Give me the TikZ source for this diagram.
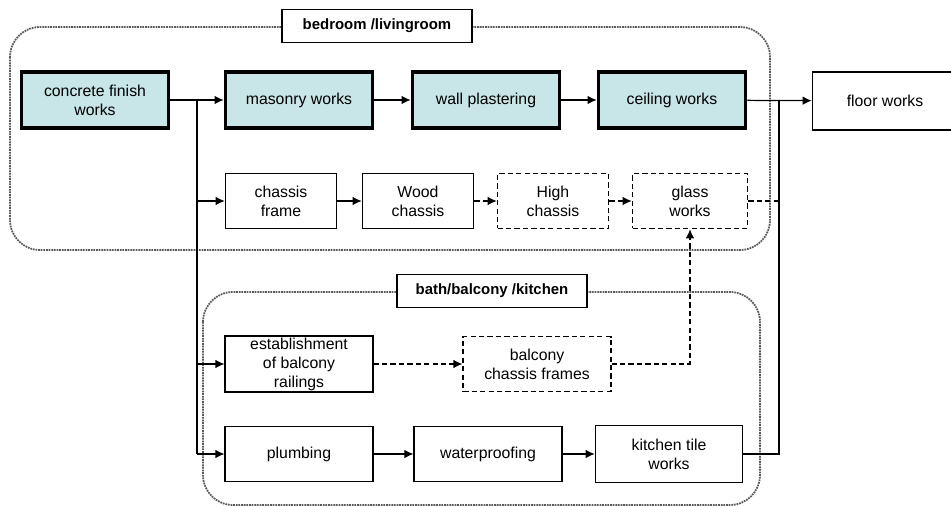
\documentclass[tikz,border=0pt]{standalone}
\usepackage{fontspec}
\setmainfont{Liberation Sans}
\usetikzlibrary{positioning,arrows.meta,calc}
\definecolor{taskfill}{RGB}{200,229,231}

\begin{document}
\begin{tikzpicture}[
  x=0.02cm, y=-0.02cm,
  task/.style={rectangle,draw=black,fill=white,line width=0.9pt,align=center,
    inner sep=1pt,font=\fontsize{9}{10.8}\selectfont},
  main/.style={task,fill=taskfill,line width=1.8pt,minimum width=2.95cm,minimum height=1.12cm},
  small/.style={task,minimum width=2.22cm,minimum height=1.1cm},
  wide/.style={task,minimum width=2.95cm,minimum height=1.1cm},
  opt/.style={dashed,dash pattern=on 3pt off 1.8pt},
  group/.style={draw=black!65,line width=1pt,dash pattern=on 1pt off 0.5pt,rounded corners=0.6cm},
  grouplbl/.style={rectangle,draw=black,fill=white,line width=0.9pt,inner sep=2pt,
    minimum height=0.66cm,font=\bfseries\fontsize{8.5}{10}\selectfont},
  >={Latex[length=1.8mm,width=1.7mm]}, line width=0.7pt
]
\useasboundingbox (0,0) rectangle (951,506);

% Room frames
\draw[group] (10,27) rectangle (770,250);
\draw[group] (203,292) rectangle (760,505);
\node[grouplbl,minimum width=3.8cm] (Lbed) at (377,26) {bedroom /livingroom};
\node[grouplbl,minimum width=3.8cm] (Lbath) at (492,291) {bath/balcony /kitchen};

% Main chain
\node[main] (concrete) at (95,100) {concrete finish\\works};
\node[main] (masonry) at (299,100) {masonry works};
\node[main] (plaster) at (486,100) {wall plastering};
\node[main] (ceiling) at (672,100) {ceiling works};
\node[task,minimum width=2.9cm,minimum height=1.16cm] (floor) at (885,101) {floor works};

% Chassis row
\node[small] (frame) at (281,201) {chassis\\frame};
\node[small] (wood) at (418,201) {Wood\\chassis};
\node[small,opt] (high) at (553,201) {High\\chassis};
\node[small,opt,minimum width=2.3cm] (glass) at (690,201) {glass\\works};

% Bath / balcony / kitchen
\node[wide] (railing) at (299,364) {establishment\\of balcony\\railings};
\node[wide,opt] (balcony) at (537,364) {balcony\\chassis frames};
\node[wide] (plumbing) at (299,454) {plumbing};
\node[wide] (proof) at (488,454) {waterproofing};
\node[wide,minimum width=2.94cm,minimum height=1.14cm] (kitchen) at (669,454) {kitchen tile\\works};

% Junctions
\coordinate (split) at (197,100);
\coordinate (merge) at (779,100);

% Split from concrete works
\draw (concrete) -- (split);
\draw[->] (split) -- (masonry);
\draw (split) -- (split |- plumbing);
\foreach \n in {frame,railing,plumbing}{
  \draw[->] (split |- \n) -- (\n);
}

% Chains
\foreach \a/\b in {masonry/plaster,plaster/ceiling,frame/wood,plumbing/proof,proof/kitchen}{
  \draw[->] (\a) -- (\b);
}
\foreach \a/\b in {wood/high,high/glass,railing/balcony}{
  \draw[->,opt] (\a) -- (\b);
}
\draw[->,opt] (balcony) -| (glass);

% Merge into floor works
\draw[->] (ceiling) -- (floor);
\draw (merge) -- (merge |- kitchen) -- (kitchen);
\draw[opt] (glass) -- (merge |- glass);
\end{tikzpicture}
\end{document}
